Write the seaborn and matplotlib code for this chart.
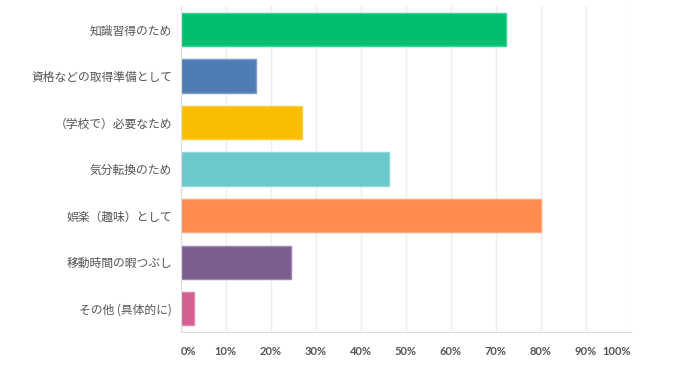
import pandas as pd
import matplotlib.pyplot as plt
import seaborn as sns

# survey answers (share of respondents, %)
reasons = ['知識習得のため', '資格などの取得準備として', '（学校で）必要なため', '気分転換のため',
           '娯楽（趣味）として', '移動時間の暇つぶし', 'その他 (具体的に)']
shares = [72.4, 16.8, 27.0, 46.4, 80.0, 24.5, 2.9]
colors = ['#00BF6F', '#507CB6', '#F9BE00', '#6BC8CD', '#FF8B4F', '#7D5E90', '#D25F90']
tick_vals = [0, 10, 20, 30, 40, 50, 60, 70, 80, 90, 100]
tick_labels = ['0%', '10%', '20%', '30%', '40%', '50%', '60%', '70%', '80%', '90%', '100%']

df = pd.DataFrame({'reason': reasons, 'share': shares})

sns.set_style('white')
plt.rcParams['font.family'] = ['Noto Sans CJK JP', 'DejaVu Sans']

fig = plt.figure(figsize=(7, 3.76), dpi=100)
ax = fig.add_axes([0.258, 0.117, 0.643, 0.867])

sns.barplot(data=df, x='share', y='reason', hue='reason', palette=colors,
            width=0.715, saturation=1, legend=False, ax=ax)
for p in ax.patches:
    fc = p.get_facecolor()
    p.set_edgecolor(tuple(0.75 * c + 0.25 for c in fc[:3]))
    p.set_linewidth(1)

ax.set_xlim(0, 100)
ax.set_ylim(6.5, -0.5)
ax.set_xticks(tick_vals)
ax.set_xticklabels(tick_labels, fontsize=8, color='#555555', fontweight='bold',
                   family=['Lato', 'DejaVu Sans'])
labels = ax.get_xticklabels()
labels[0].set_horizontalalignment('left')
labels[-1].set_horizontalalignment('right')
ax.tick_params(axis='x', length=0, pad=10)
ax.tick_params(axis='y', length=0, pad=6, labelsize=8.5, labelcolor='#555555')
ax.set_xlabel('')
ax.set_ylabel('')
ax.grid(axis='x', color='#eeeeee', linewidth=1)
ax.set_axisbelow(True)
for s in ['top', 'right']:
    ax.spines[s].set_visible(False)
ax.spines['left'].set_color('#dddddd')
ax.spines['bottom'].set_color('#dddddd')

fig.savefig('out.png', dpi=100)
